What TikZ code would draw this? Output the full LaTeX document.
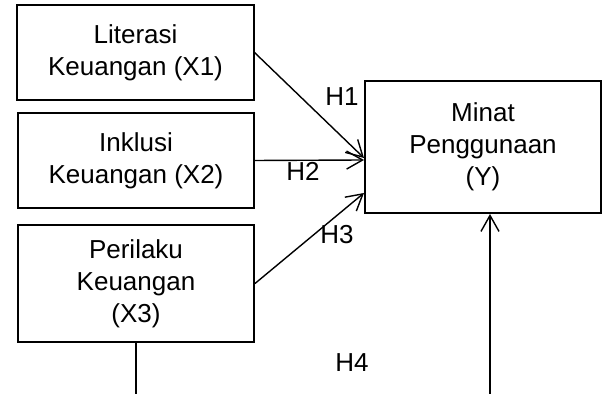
\documentclass[tikz,border=0pt]{standalone}
\usepackage{fontspec}
\setmainfont{Liberation Sans}
\usetikzlibrary{arrows.meta}
\begin{document}
\begin{tikzpicture}[x=0.5pt,y=-0.5pt,
    box/.style={draw,line width=1pt,align=center,inner sep=0pt,
      minimum width=118pt,font=\fontsize{13pt}{16pt}\selectfont},
    lbl/.style={font=\fontsize{13pt}{16pt}\selectfont},
    link/.style={line width=0.7pt,-{Straight Barb[length=8pt,width=9pt]}}]
  \useasboundingbox (0,0) rectangle (607,394);
  \node[box,minimum height=47.5pt] (x1) at (135.5,52.5) {Literasi\\Keuangan (X1)};
  \node[box,minimum height=47.5pt] (x2) at (136,160.5) {Inklusi\\Keuangan (X2)};
  \node[box,minimum height=58.5pt] (x3) at (136,283.5) {Perilaku\\Keuangan\\(X3)};
  \node[box,minimum height=66pt] (y) at (483,147) {Minat\\Penggunaan\\(Y)};
  \coordinate (b3) at (136,394);
  \coordinate (b4) at (490,394);
  \foreach \s/\d in {x1/-5.5pt,x2/-6.5pt,x3/-23pt}{
    \draw[link] (\s.east) -- ([yshift=\d]y.west);
  }
  \draw[line width=0.7pt] (x3.south) -- (b3);
  \draw[link] (b4) -- (y.south -| b4);
  \node[lbl] (h1) at (342,97) {H1};
  \node[lbl] (h2) at (303,171) {H2};
  \node[lbl] (h3) at (337,235) {H3};
  \node[lbl] (h4) at (352,363) {H4};
\end{tikzpicture}
\end{document}
